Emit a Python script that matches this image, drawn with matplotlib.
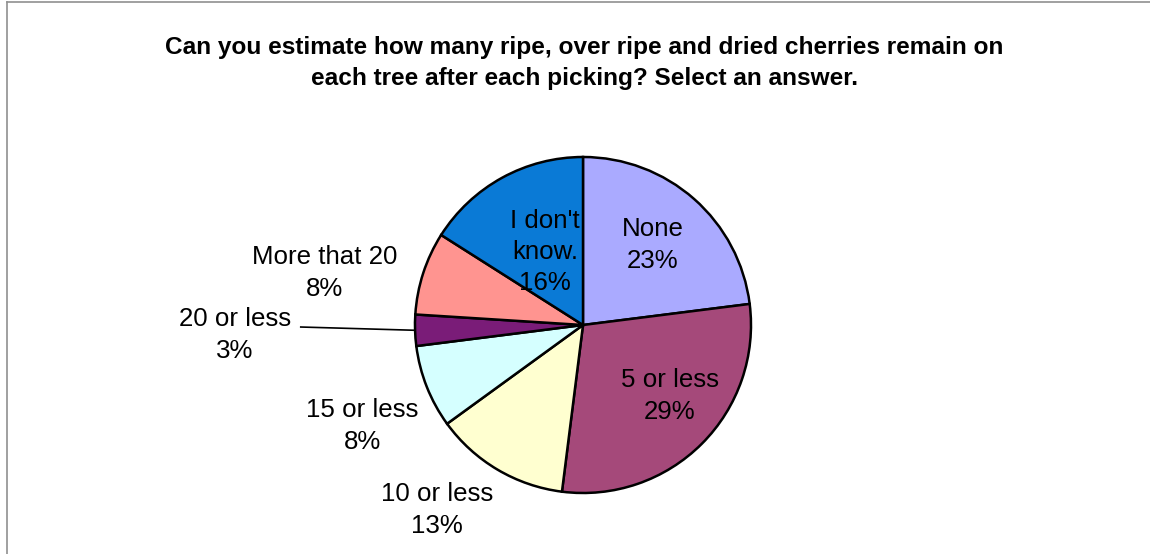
import matplotlib.pyplot as plt
from matplotlib.lines import Line2D
import numpy as np

plt.rcParams['font.family'] = ['Liberation Sans', 'DejaVu Sans']

# slices, clockwise from 12 o'clock
categories = ['None', '5 or less', '10 or less', '15 or less', '20 or less',
              'More that 20', "I don't\nknow."]
shares = [23, 29, 13, 8, 3, 8, 16]
colors = ['#AAAAFF', '#A5497A', '#FFFFD0', '#D5FFFF', '#7A1C78', '#FF9490', '#0A7AD6']

# label centres, in pie radii
label_xy = [(0.417, 0.476), (0.518, -0.423), (-0.869, -1.101), (-1.315, -0.601),
            (-2.071, -0.06), (-1.536, 0.31), (-0.226, 0.435)]

title = ("Can you estimate how many ripe, over ripe and dried cherries remain on\n"
         "each tree after each picking? Select an answer.")

W, H = 1150, 554
cx, cy, R = 583, 325, 168

fig = plt.figure(figsize=(W / 100, H / 100), dpi=100)
ax = fig.add_axes([0, 0, 1, 1])

wedges, _ = ax.pie(shares, colors=colors, startangle=90, counterclock=False,
                   wedgeprops=dict(edgecolor='black', linewidth=1.8))

ax.set_xlim(-cx / R, (W - cx) / R)
ax.set_ylim(-(H - cy) / R, cy / R)
ax.set_aspect('auto')
ax.axis('off')

for cat, s, (x, y) in zip(categories, shares, label_xy):
    ax.text(x, y, f"{cat}\n{s}%", ha='center', va='center', fontsize=18.6,
            linespacing=1.38)

# leader line for the thin slice
w = wedges[4]
mid = np.deg2rad((w.theta1 + w.theta2) / 2)
ax.plot([np.cos(mid), -1.68], [np.sin(mid), -0.012], color='black', lw=1.2)

fig.text(0.508, 1 - 63 / H, title, ha='center', va='center', fontsize=17.6,
         fontweight='bold', linespacing=1.42)

# chart area border (top and left visible)
fig.add_artist(Line2D([7 / W, 1], [1 - 2 / H, 1 - 2 / H], color='#909090', lw=1.2))
fig.add_artist(Line2D([7 / W, 7 / W], [0, 1 - 2 / H], color='#909090', lw=1.2))

fig.savefig('out.png', dpi=100)
